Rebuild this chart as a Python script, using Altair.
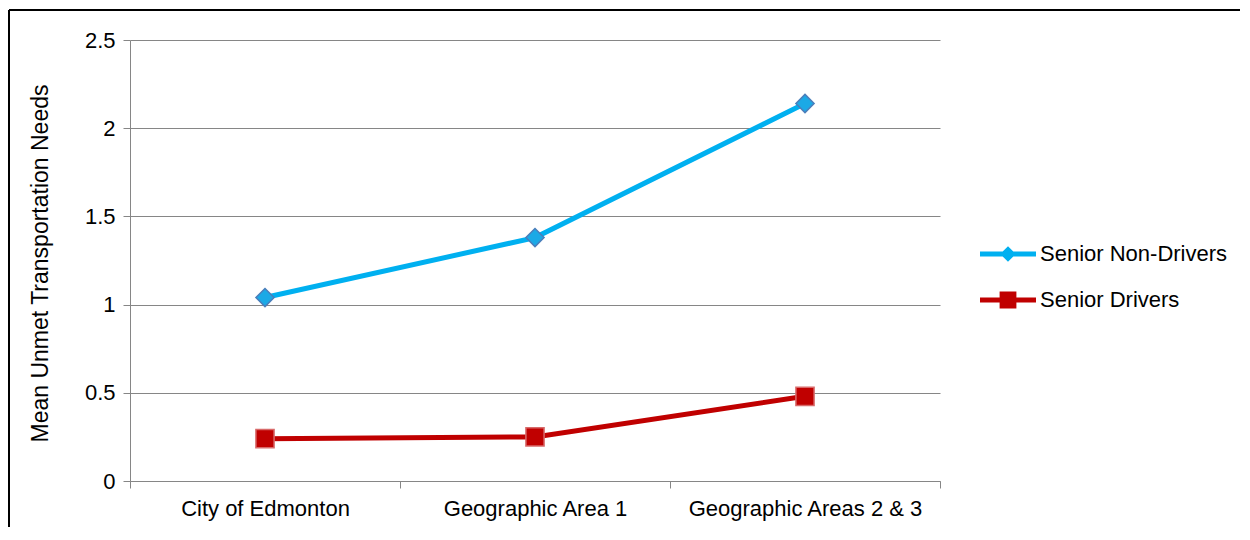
import altair as alt
import pandas as pd

categories = ["City of Edmonton", "Geographic Area 1", "Geographic Areas 2 & 3"]
series_names = ["Senior Non-Drivers", "Senior Drivers"]
non_drivers = [1.04, 1.38, 2.14]
drivers = [0.24, 0.25, 0.48]
y_ticks = [0, 0.5, 1, 1.5, 2, 2.5]

rows = []
for c, v in zip(categories, non_drivers):
    rows.append({"category": c, "series": series_names[0], "value": v})
for c, v in zip(categories, drivers):
    rows.append({"category": c, "series": series_names[1], "value": v})
df = pd.DataFrame(rows)

FONT = "Liberation Sans, Arial, sans-serif"
line_colors = ["#00b0f0", "#c00000"]
marker_fill = ["#1ba9e6", "#c00000"]
marker_stroke = ["#4a7ebb", "#d86a6a"]
marker_shapes = ["diamond", "square"]
# legend glyphs: a short line with the marker on it (filled outline shapes)
legend_paths = [
    "M-2,-0.17L-0.38,-0.17L0,-0.55L0.38,-0.17L2,-0.17L2,0.17L0.38,0.17L0,0.55L-0.38,0.17L-2,0.17Z",
    "M-2,-0.17L-0.6,-0.17L-0.6,-0.6L0.6,-0.6L0.6,-0.17L2,-0.17L2,0.17L0.6,0.17L0.6,0.6L-0.6,0.6L-0.6,0.17L-2,0.17Z",
]

x_enc = alt.X(
    "category:N",
    sort=categories,
    bandPosition=0.5,
    scale=alt.Scale(type="band", domain=categories, paddingInner=0, paddingOuter=0),
    axis=alt.Axis(
        title=None, tickBand="extent", grid=False, labelAngle=0, labelLimit=400,
        tickSize=7, labelPadding=10, domainColor="#868686", tickColor="#868686",
    ),
)
y_enc = alt.Y(
    "value:Q",
    scale=alt.Scale(domain=[0, 2.5], nice=False, zero=True),
    axis=alt.Axis(
        values=y_ticks, format="~g", title="Mean Unmet Transportation Needs",
        grid=True, gridColor="#868686", tickSize=7, labelPadding=8,
        domainColor="#868686", tickColor="#868686",
        titleFontWeight="normal", titleFontSize=23,
        titleX=-90, titleY=223, titleAlign="center", titleBaseline="middle",
        titleAngle=270,
    ),
)

layers = []
one = pd.DataFrame({"k": [0]})
frame_left = alt.Chart(one).mark_rule(color="black", strokeWidth=2).encode(
    x=alt.value(-121), y=alt.value(-30), y2=alt.value(600)
)
frame_top = alt.Chart(one).mark_rule(color="black", strokeWidth=2).encode(
    x=alt.value(-121), x2=alt.value(1300), y=alt.value(-30)
)
layers += [frame_left, frame_top]

for i, name in enumerate(series_names):
    sub = alt.Chart(df).transform_filter(alt.datum.series == name)
    layers.append(sub.mark_line(strokeWidth=5, color=line_colors[i]).encode(x=x_enc, y=y_enc))
for i, name in enumerate(series_names):
    sub = alt.Chart(df).transform_filter(alt.datum.series == name)
    layers.append(sub.mark_point(
        shape=marker_shapes[i], filled=True, size=330, fill=marker_fill[i],
        stroke=marker_stroke[i], strokeWidth=1.5, opacity=1,
    ).encode(x=x_enc, y=y_enc))

leg = alt.Legend(
    title=None, orient="none", legendX=864, legendY=200, padding=0,
    symbolSize=784, labelOffset=18, rowPadding=21, symbolStrokeWidth=0,
    symbolOpacity=1, labelLimit=300,
    labelFontSize=22, labelFont=FONT, labelColor="black",
)
# legend-only layer (no rows drawn); entries come from the explicit scale domains
legend_layer = alt.Chart(df).transform_filter(alt.datum.value < 0).mark_point(
    filled=True, opacity=1
).encode(
    x=x_enc, y=y_enc,
    color=alt.Color("series:N", scale=alt.Scale(domain=series_names, range=line_colors), legend=leg),
    shape=alt.Shape("series:N", scale=alt.Scale(domain=series_names, range=legend_paths), legend=leg),
)
layers.append(legend_layer)

chart = alt.layer(*layers).properties(
    width=810, height=441,
    autosize=alt.AutoSizeParams(type="none"),
    padding={"left": 122, "top": 32, "right": 300, "bottom": 46},
    background="white",
).configure_view(stroke=None).configure_axis(
    labelFont=FONT, labelFontSize=22, labelColor="black",
    titleFont=FONT, titleFontSize=23, titleColor="black",
)

chart.save("out.html", embed_options={"renderer": "svg", "actions": False})
